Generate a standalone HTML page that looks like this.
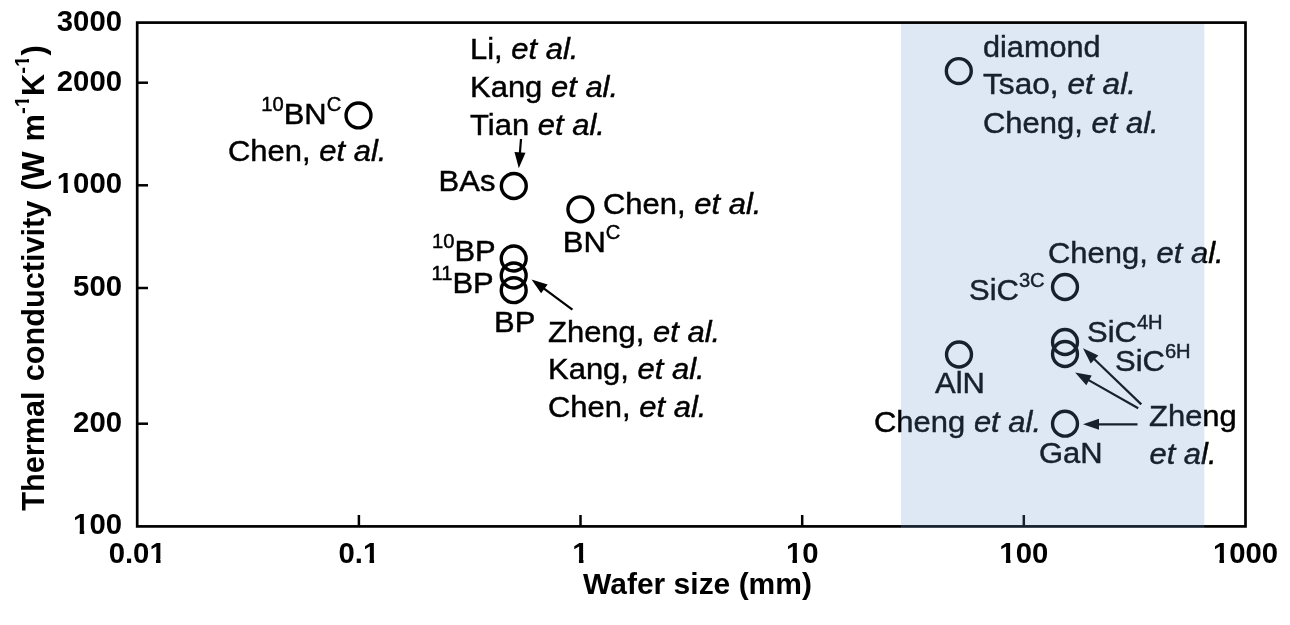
<!DOCTYPE html>
<html lang="en"><head><meta charset="utf-8"><title>Thermal conductivity vs wafer size</title>
<style>
html,body{margin:0;padding:0;background:#fff;}
body{width:1290px;height:625px;overflow:hidden;}
svg{display:block;}
text{font-family:"Liberation Sans",Arial,Helvetica,sans-serif;fill:#000;}
.r{font-size:30px;stroke:#000;stroke-width:0.45px;}
.b{font-size:29.3px;font-weight:bold;}
.i{font-style:italic;}
.s{font-size:19.5px;}
.bs{font-size:20.5px;font-weight:bold;}
.m{fill:none;stroke:#000;stroke-width:3.4;}
.ar{stroke:#000;stroke-width:2.2;fill:none;}
.ah{fill:#000;stroke:none;}
</style></head><body>
<svg width="1290" height="625" viewBox="0 0 1290 625">
<rect x="0" y="0" width="1290" height="625" fill="#fff"/>
<line x1="137.2" y1="423.7" x2="148" y2="423.7" stroke="#000" stroke-width="2.5"/>
<line x1="137.2" y1="288.0" x2="148" y2="288.0" stroke="#000" stroke-width="2.5"/>
<line x1="137.2" y1="185.3" x2="148" y2="185.3" stroke="#000" stroke-width="2.5"/>
<line x1="137.2" y1="82.7" x2="148" y2="82.7" stroke="#000" stroke-width="2.5"/>
<line x1="358.9" y1="526.4" x2="358.9" y2="515" stroke="#000" stroke-width="2.5"/>
<line x1="580.5" y1="526.4" x2="580.5" y2="515" stroke="#000" stroke-width="2.5"/>
<line x1="802.2" y1="526.4" x2="802.2" y2="515" stroke="#000" stroke-width="2.5"/>
<line x1="1023.8" y1="526.4" x2="1023.8" y2="515" stroke="#000" stroke-width="2.5"/>
<text class="b" x="122" y="534.4" text-anchor="end">100</text>
<text class="b" x="122" y="431.7" text-anchor="end">200</text>
<text class="b" x="122" y="296.0" text-anchor="end">500</text>
<text class="b" x="122" y="193.3" text-anchor="end">1000</text>
<text class="b" x="122" y="90.7" text-anchor="end">2000</text>
<text class="b" x="122" y="30.6" text-anchor="end">3000</text>
<text class="b" x="137.2" y="562.5" text-anchor="middle">0.01</text>
<text class="b" x="358.9" y="562.5" text-anchor="middle">0.1</text>
<text class="b" x="580.5" y="562.5" text-anchor="middle">1</text>
<text class="b" x="802.2" y="562.5" text-anchor="middle">10</text>
<text class="b" x="1023.8" y="562.5" text-anchor="middle">100</text>
<text class="b" x="1245.5" y="562.5" text-anchor="middle">1000</text>
<text class="b" transform="translate(697.5,594.4) scale(1.024,1)" text-anchor="middle">Wafer size (mm)</text>
<g transform="translate(43.5,278) rotate(-90)"><text class="b" id="ytitle" style="font-size:30.7px;word-spacing:1.5px" text-anchor="middle">Thermal conductivity (W m<tspan class="bs" dy="-15">-1</tspan><tspan dy="15">K</tspan><tspan class="bs" dy="-15">-1</tspan><tspan dy="15">)</tspan></text><rect x="171.00" y="-17.60" width="4.25" height="3.50" fill="#fff"/><rect x="178.57" y="-17.60" width="4.24" height="3.50" fill="#fff"/><rect x="211.41" y="-17.60" width="4.25" height="3.50" fill="#fff"/><rect x="218.98" y="-17.60" width="4.24" height="3.50" fill="#fff"/></g>
<rect x="73.96" y="530.91" width="5.74" height="4.39" fill="#fff"/>
<rect x="84.22" y="530.91" width="5.62" height="4.39" fill="#fff"/>
<rect x="57.66" y="189.81" width="5.74" height="4.39" fill="#fff"/>
<rect x="67.92" y="189.81" width="5.62" height="4.39" fill="#fff"/>
<rect x="150.25" y="559.01" width="5.75" height="4.39" fill="#fff"/>
<rect x="160.52" y="559.01" width="5.63" height="4.39" fill="#fff"/>
<rect x="363.80" y="559.01" width="5.75" height="4.39" fill="#fff"/>
<rect x="374.07" y="559.01" width="5.63" height="4.39" fill="#fff"/>
<rect x="573.20" y="559.01" width="5.74" height="4.39" fill="#fff"/>
<rect x="583.46" y="559.01" width="5.62" height="4.39" fill="#fff"/>
<rect x="786.75" y="559.01" width="5.74" height="4.39" fill="#fff"/>
<rect x="797.01" y="559.01" width="5.62" height="4.39" fill="#fff"/>
<rect x="1000.20" y="559.01" width="5.74" height="4.39" fill="#fff"/>
<rect x="1010.46" y="559.01" width="5.62" height="4.39" fill="#fff"/>
<rect x="1213.75" y="559.01" width="5.74" height="4.39" fill="#fff"/>
<rect x="1224.02" y="559.01" width="5.62" height="4.39" fill="#fff"/>
<circle class="m" cx="358.5" cy="115.4" r="12.45"/>
<circle class="m" cx="513.8" cy="186" r="12.45"/>
<circle class="m" cx="580.4" cy="209.3" r="12.45"/>
<circle class="m" cx="513.7" cy="258.5" r="12.45"/>
<circle class="m" cx="513.7" cy="275.5" r="12.45"/>
<circle class="m" cx="513.7" cy="290.2" r="12.45"/>
<circle class="m" cx="958.8" cy="71.1" r="12.45"/>
<circle class="m" cx="1065" cy="287" r="12.45"/>
<circle class="m" cx="1065" cy="342" r="12.45"/>
<circle class="m" cx="1065" cy="354" r="12.45"/>
<circle class="m" cx="959" cy="354.5" r="12.45"/>
<circle class="m" cx="1065" cy="423.7" r="12.45"/>
<text class="r" transform="translate(261.3,124.3) scale(1.033,1)"><tspan class="s" dy="-13">10</tspan><tspan dy="13">BN</tspan><tspan class="s" dy="-13">C</tspan></text>
<text class="r" transform="translate(228,161.3) scale(1.033,1)">Chen, <tspan class="i">et al.</tspan></text>
<text class="r" transform="translate(470,59.4) scale(1.033,1)">Li, <tspan class="i">et al.</tspan></text>
<text class="r" transform="translate(470,96.8) scale(1.033,1)">Kang <tspan class="i">et al.</tspan></text>
<text class="r" transform="translate(470,135) scale(1.033,1)">Tian <tspan class="i">et al.</tspan></text>
<text class="r" transform="translate(438.6,190.6) scale(1.033,1)">BAs</text>
<text class="r" transform="translate(603,214.4) scale(1.033,1)">Chen, <tspan class="i">et al.</tspan></text>
<text class="r" transform="translate(562.8,252) scale(1.033,1)">BN<tspan class="s" dy="-13">C</tspan></text>
<text class="r" transform="translate(432,261) scale(1.033,1)"><tspan class="s" dy="-13">10</tspan><tspan dy="13">BP</tspan></text>
<text class="r" transform="translate(431.5,293) scale(1.033,1)"><tspan class="s" dy="-13">11</tspan><tspan dy="13">BP</tspan></text>
<text class="r" transform="translate(494,331.6) scale(1.033,1)">BP</text>
<text class="r" transform="translate(548,341.6) scale(1.033,1)">Zheng, <tspan class="i">et al.</tspan></text>
<text class="r" transform="translate(548,379) scale(1.033,1)">Kang, <tspan class="i">et al.</tspan></text>
<text class="r" transform="translate(548,416.8) scale(1.033,1)">Chen, <tspan class="i">et al.</tspan></text>
<text class="r" transform="translate(983,57) scale(1.022,1)">diamond</text>
<text class="r" transform="translate(983,94.3) scale(1.055,1)">Tsao, <tspan class="i">et al.</tspan></text>
<text class="r" transform="translate(983,132.5) scale(1.033,1)">Cheng, <tspan class="i">et al.</tspan></text>
<text class="r" transform="translate(1048,262.5) scale(1.033,1)">Cheng, <tspan class="i">et al.</tspan></text>
<text class="r" transform="translate(969,300) scale(1.033,1)">SiC<tspan class="s" dy="-13">3C</tspan></text>
<text class="r" transform="translate(1087,342) scale(1.033,1)">SiC<tspan class="s" dy="-13">4H</tspan></text>
<text class="r" transform="translate(1115,371) scale(1.033,1)">SiC<tspan class="s" dy="-13">6H</tspan></text>
<text class="r" transform="translate(935,393) scale(1.033,1)">AlN</text>
<text class="r" transform="translate(874,431.5) scale(1.033,1)">Cheng <tspan class="i">et al.</tspan></text>
<text class="r" transform="translate(1039,463) scale(1.033,1)">GaN</text>
<text class="r" transform="translate(1149,426) scale(1.033,1)">Zheng</text>
<text class="r" transform="translate(1149.4,464.4) scale(1.033,1)"><tspan class="i">et al.</tspan></text>
<line class="ar" x1="521.0" y1="139.0" x2="519.8" y2="154.3"/>
<polygon class="ah" points="518.8,168.3 514.5,151.9 525.5,152.8"/>
<line class="ar" x1="572.4" y1="309.7" x2="542.7" y2="287.7"/>
<polygon class="ah" points="531.5,279.4 547.6,284.5 541.1,293.3"/>
<line class="ar" x1="1141.3" y1="404.4" x2="1093.1" y2="358.0"/>
<polygon class="ah" points="1083.0,348.3 1098.3,355.4 1090.7,363.4"/>
<line class="ar" x1="1138.2" y1="408.3" x2="1087.3" y2="379.4"/>
<polygon class="ah" points="1075.1,372.5 1091.7,375.6 1086.3,385.2"/>
<line class="ar" x1="1137.5" y1="424.3" x2="1097.0" y2="424.3"/>
<polygon class="ah" points="1083.0,424.3 1099.0,418.8 1099.0,429.8"/>
<rect x="137.2" y="22.6" width="1108.3" height="503.8" fill="none" stroke="#000" stroke-width="2.7"/>
<rect x="901" y="24.1" width="303.3" height="503.8" fill="rgb(100,150,205)" fill-opacity="0.22"/>
</svg></body></html>
